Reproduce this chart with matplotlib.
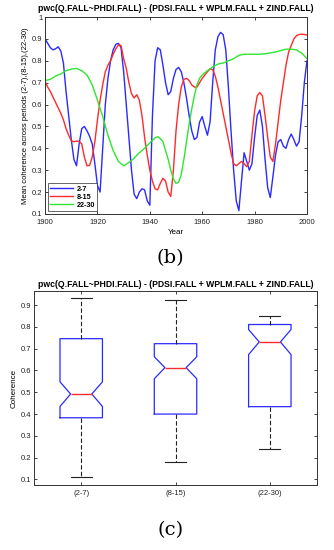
import numpy as np
import matplotlib
matplotlib.use("Agg")
import matplotlib.pyplot as plt

# =========================================
# Panel (b) data: mean coherence by year
# =========================================

years_blue = list(range(1900, 2001))
coh_2_7 = [
    0.90, 0.88, 0.86, 0.85, 0.855, 0.864, 0.845, 0.79, 0.66, 0.55,   # 1900-1909
    0.44, 0.35, 0.32, 0.42, 0.49, 0.50, 0.48, 0.455, 0.42, 0.33,     # 1910-1919
    0.23, 0.20, 0.40, 0.60, 0.72, 0.80, 0.85, 0.875, 0.88, 0.86,     # 1920-1929
    0.75, 0.60, 0.45, 0.30, 0.19, 0.17, 0.20, 0.215, 0.21, 0.16,     # 1930-1939
    0.14, 0.55, 0.80, 0.86, 0.85, 0.78, 0.70, 0.645, 0.66, 0.72,     # 1940-1949
    0.76, 0.77, 0.75, 0.70, 0.63, 0.55, 0.48, 0.44, 0.45, 0.52,      # 1950-1959
    0.545, 0.50, 0.46, 0.52, 0.70, 0.85, 0.91, 0.93, 0.92, 0.85,     # 1960-1969
    0.68, 0.48, 0.30, 0.16, 0.115, 0.25, 0.38, 0.34, 0.30, 0.33,     # 1970-1979
    0.45, 0.55, 0.575, 0.50, 0.35, 0.22, 0.175, 0.27, 0.37, 0.43,    # 1980-1989
    0.44, 0.41, 0.40, 0.44, 0.465, 0.44, 0.41, 0.43, 0.55, 0.70,     # 1990-1999
    0.80,                                                            # 2000
]

years_red = list(range(1900, 2001))
coh_8_15 = [
    0.705, 0.68, 0.66, 0.635, 0.61, 0.585, 0.56, 0.53, 0.49, 0.46,   # 1900-1909
    0.435, 0.43, 0.433, 0.432, 0.42, 0.36, 0.32, 0.322, 0.36, 0.43,  # 1910-1919
    0.53, 0.62, 0.69, 0.75, 0.78, 0.80, 0.83, 0.855, 0.873, 0.87,    # 1920-1929
    0.81, 0.765, 0.70, 0.65, 0.63, 0.645, 0.62, 0.55, 0.45, 0.37,    # 1930-1939
    0.30, 0.25, 0.215, 0.21, 0.24, 0.263, 0.25, 0.20, 0.18, 0.30,    # 1940-1949
    0.48, 0.60, 0.68, 0.715, 0.72, 0.71, 0.69, 0.68, 0.68, 0.70,     # 1950-1959
    0.72, 0.735, 0.75, 0.763, 0.76, 0.73, 0.68, 0.62, 0.56, 0.50,    # 1960-1969
    0.44, 0.38, 0.33, 0.32, 0.33, 0.34, 0.33, 0.316, 0.34, 0.46,     # 1970-1979
    0.57, 0.64, 0.655, 0.64, 0.55, 0.45, 0.36, 0.34, 0.42, 0.52,     # 1980-1989
    0.62, 0.70, 0.78, 0.84, 0.87, 0.90, 0.915, 0.92, 0.922, 0.92,    # 1990-1999
    0.918,                                                           # 2000
]

years_green = [
    1900, 1902, 1904, 1906, 1908, 1910, 1912, 1914, 1916, 1918,
    1920, 1922, 1924, 1926, 1928, 1930, 1932, 1934, 1936, 1938,
    1940, 1942, 1943, 1944, 1945, 1946, 1947, 1948, 1949, 1950,
    1951, 1952, 1953, 1954, 1955, 1956, 1957, 1958, 1959, 1960,
    1962, 1964, 1966, 1968, 1970, 1972, 1974, 1976, 1978, 1980,
    1982, 1984, 1986, 1988, 1990, 1992, 1994, 1996, 1998, 2000,
]
coh_22_30 = [
    0.71, 0.715, 0.73, 0.74, 0.755, 0.762, 0.765, 0.755, 0.735, 0.69,
    0.62, 0.545, 0.46, 0.39, 0.34, 0.32, 0.335, 0.355, 0.38, 0.40,
    0.425, 0.448, 0.453, 0.445, 0.43, 0.39, 0.35, 0.30, 0.26, 0.24,
    0.245, 0.28, 0.35, 0.43, 0.51, 0.58, 0.64, 0.69, 0.72, 0.735,
    0.755, 0.772, 0.785, 0.79, 0.80, 0.81, 0.825, 0.83, 0.83, 0.83,
    0.83, 0.832, 0.836, 0.84, 0.847, 0.853, 0.853, 0.85, 0.835, 0.81,
]

# =========================================
# Panel (c) data: box statistics
# =========================================

box_labels = ["(2-7)", "(8-15)", "(22-30)"]
box_whislo = [0.113, 0.180, 0.240]
box_q1 = [0.383, 0.400, 0.434]
box_med = [0.492, 0.613, 0.731]
box_q3 = [0.746, 0.723, 0.811]
box_whishi = [0.931, 0.923, 0.849]
box_cilo = [0.435, 0.562, 0.673]
box_cihi = [0.548, 0.663, 0.788]

title = "pwc(Q.FALL~PHDI.FALL) - (PDSI.FALL + WPLM.FALL + ZIND.FALL)"

BLUE = "#2a2aff"
RED = "#ff2a2a"
GREEN = "#2ee62e"

plt.rcParams["font.family"] = ["Liberation Sans", "DejaVu Sans"]

fig = plt.figure(figsize=(3.34, 5.5), dpi=100)


def matlab_axes(ax):
    ax.tick_params(direction="in", length=2.5, width=0.6, labelsize=5.5,
                   top=True, right=True, colors="#222222")
    ax.tick_params(axis="y", pad=2)
    ax.tick_params(axis="x", pad=3.5)
    for s in ax.spines.values():
        s.set_linewidth(0.7)
        s.set_color("#333333")


# =========================================
# (b) line chart
# =========================================

ax1 = fig.add_axes([0.135, 0.611, 0.784, 0.358])
ax1.plot(years_blue, coh_2_7, color=BLUE, lw=1.0, label="2-7")
ax1.plot(years_red, coh_8_15, color=RED, lw=1.0, label="8-15")
ax1.plot(years_green, coh_22_30, color=GREEN, lw=1.0, label="22-30")
ax1.set_xlim(1900, 2000)
ax1.set_ylim(0.1, 1.0)
ax1.set_xticks(np.arange(1900, 2001, 20))
ax1.set_yticks(np.arange(0.1, 1.01, 0.1))
ax1.set_yticklabels(["0.1", "0.2", "0.3", "0.4", "0.5", "0.6", "0.7", "0.8", "0.9", "1"])
matlab_axes(ax1)
ax1.set_xlabel("Year", fontsize=5.8, labelpad=2)
ax1.set_ylabel("Mean coherence across periods (2-7),(8-15),(22-30)", fontsize=5.5, labelpad=2)
ax1.set_title(title, fontsize=6.2, fontweight="bold", pad=4)
leg = ax1.legend(loc="lower left", fontsize=5.2, frameon=True, fancybox=False,
                 handlelength=3.2, borderpad=0.3, labelspacing=0.15,
                 handletextpad=0.5, borderaxespad=0.4)
leg.get_frame().set_edgecolor("#222222")
leg.get_frame().set_linewidth(0.6)
for t in leg.get_texts():
    t.set_fontweight("bold")

fig.text(0.51, 0.53, "(b)", ha="center", va="center", fontsize=14,
         family="DejaVu Serif")

# =========================================
# (c) notched box plot
# =========================================

ax2 = fig.add_axes([0.102, 0.118, 0.847, 0.353])
stats = []
for i in range(len(box_labels)):
    stats.append({
        "label": box_labels[i],
        "whislo": box_whislo[i],
        "q1": box_q1[i],
        "med": box_med[i],
        "q3": box_q3[i],
        "whishi": box_whishi[i],
        "cilo": box_cilo[i],
        "cihi": box_cihi[i],
        "fliers": [],
    })
ax2.bxp(stats, positions=[1, 2, 3], widths=0.45, shownotches=True,
        showfliers=False,
        boxprops=dict(color=BLUE, lw=0.9),
        medianprops=dict(color=RED, lw=1.0),
        whiskerprops=dict(color="#222222", lw=0.8, linestyle=(0, (4, 2))),
        capprops=dict(color="#222222", lw=0.8),
        capwidths=0.22)
ax2.set_xlim(0.5, 3.5)
ax2.set_ylim(0.074, 0.965)
ax2.set_yticks(np.arange(0.1, 0.91, 0.1))
ax2.set_yticklabels(["0.1", "0.2", "0.3", "0.4", "0.5", "0.6", "0.7", "0.8", "0.9"])
matlab_axes(ax2)
ax2.set_ylabel("Coherence", fontsize=5.8, labelpad=2)
ax2.set_title(title, fontsize=6.2, fontweight="bold", pad=3)

fig.text(0.51, 0.036, "(c)", ha="center", va="center", fontsize=14,
         family="DejaVu Serif")

fig.savefig("out.png", dpi=100)
